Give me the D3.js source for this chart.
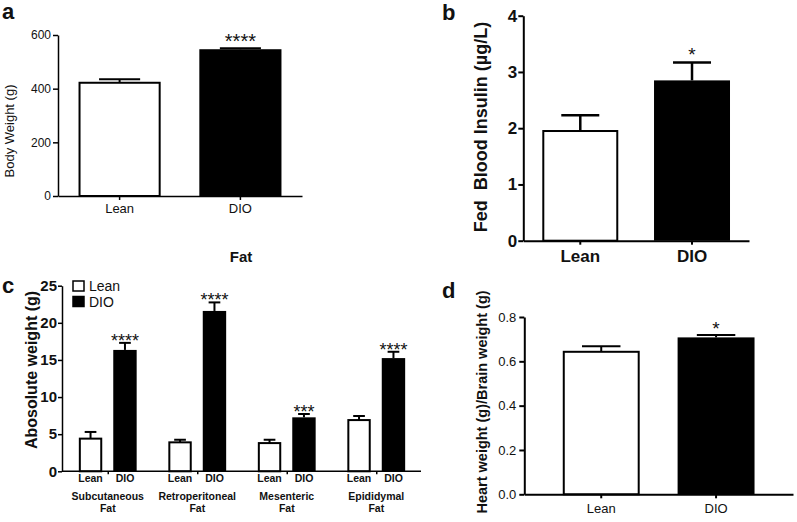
<!DOCTYPE html>
<html>
<head>
<meta charset="utf-8">
<script src="https://cdn.jsdelivr.net/npm/d3@7"></script>
<style>
  html, body { margin: 0; padding: 0; background: #fff; }
  svg { display: block; }
  text { font-family: "Liberation Sans", Arial, sans-serif; fill: #111; }
</style>
</head>
<body>
<svg id="chart" width="797" height="522"></svg>
<script>
// ---------- DATA ----------
const groups2 = ["Lean", "DIO"];

// Panel a: body weight (g)
const bodyWeightMean = [422, 547];
const bodyWeightSem = [13, 4];
const bodyWeightStars = ["", "****"];
const bodyWeightTicks = [0, 200, 400, 600];

// Panel b: fed blood insulin (µg/L)
const insulinMean = [1.95, 2.85];
const insulinSem = [0.28, 0.32];
const insulinStars = ["", "*"];
const insulinTicks = [0, 1, 2, 3, 4];

// Panel c: fat depots absolute weight (g)
const fatDepots = ["Subcutaneous", "Retroperitoneal", "Mesenteric", "Epididymal"];
const fatLeanMean = [4.4, 3.9, 3.8, 6.9];
const fatLeanSem = [0.9, 0.35, 0.45, 0.55];
const fatDioMean = [16.35, 21.6, 7.27, 15.25];
const fatDioSem = [0.95, 1.15, 0.45, 0.85];
const fatDioStars = ["****", "****", "***", "****"];
const fatTicks = [0, 5, 10, 15, 20, 25];

// Panel d: heart weight / brain weight
const heartMean = [0.643, 0.708];
const heartSem = [0.025, 0.011];
const heartStars = ["", "*"];
const heartTicks = [0, 0.2, 0.4, 0.6, 0.8];

// ---------- DRAW ----------
const svg = d3.select("#chart");
const FONT = '"Liberation Sans", Arial, sans-serif';
const fills = { Lean: "#ffffff", DIO: "#000000" };

function styleAxis(g, sw) {
  g.selectAll(".domain").attr("stroke", "#000").attr("stroke-width", sw);
  g.selectAll(".tick line").attr("stroke", "#000").attr("stroke-width", sw);
}

function simplePanel(o) {
  const g = svg.append("g");
  const y = d3.scaleLinear().domain(o.domain).range([o.y0, o.y1]);
  const x = d3.scaleBand().domain(groups2).range([o.x0, o.x1])
    .paddingInner(o.pi).paddingOuter(o.po);

  const rows = groups2.map((k, i) => ({ k, m: o.mean[i], s: o.sem[i], star: o.stars[i] }));
  g.selectAll("rect.bar").data(rows).join("rect")
    .attr("x", d => x(d.k) + (d.k === "Lean" ? o.bw / 2 : 0))
    .attr("y", d => y(d.m))
    .attr("width", d => x.bandwidth() - (d.k === "Lean" ? o.bw : 0))
    .attr("height", d => y(0) - y(d.m))
    .attr("fill", d => fills[d.k])
    .attr("stroke", "#000")
    .attr("stroke-width", d => d.k === "Lean" ? o.bw : 0);

  const cw = x.bandwidth() * 0.25;
  rows.forEach(d => {
    const cx = x(d.k) + x.bandwidth() / 2;
    g.append("line").attr("x1", cx).attr("x2", cx)
      .attr("y1", y(d.m)).attr("y2", y(d.m + d.s))
      .attr("stroke", "#000").attr("stroke-width", o.ew);
    g.append("line").attr("x1", cx - cw).attr("x2", cx + cw)
      .attr("y1", y(d.m + d.s)).attr("y2", y(d.m + d.s))
      .attr("stroke", "#000").attr("stroke-width", o.ew);
    if (d.star) {
      g.append("text").attr("x", cx).attr("y", y(d.m + d.s) + o.starDy)
        .attr("text-anchor", "middle")
        .style("font-size", o.starSize + "px").style("font-family", FONT)
        .text(d.star);
    }
  });

  const ya = g.append("g").attr("transform", `translate(${o.x0},0)`)
    .call(d3.axisLeft(y).tickValues(o.ticks).tickFormat(o.fmt)
      .tickSize(5).tickSizeOuter(0).tickPadding(o.tp));
  styleAxis(ya, o.aw);
  ya.selectAll(".tick text").style("font-size", o.tickFs + "px")
    .style("font-weight", o.tickBold ? "bold" : "normal").style("font-family", FONT).attr("fill", "#111");

  const xa = g.append("g").attr("transform", `translate(0,${o.y0})`)
    .call(d3.axisBottom(x).tickSize(4).tickSizeOuter(0).tickPadding(o.xtp));
  styleAxis(xa, o.aw);
  xa.selectAll(".tick text").style("font-size", o.xFs + "px")
    .style("font-weight", o.xBold ? "bold" : "normal").style("font-family", FONT).attr("fill", "#111");

  g.append("text").attr("transform", `translate(${o.lx},${o.ly}) rotate(-90)`)
    .attr("text-anchor", "middle")
    .style("font-size", o.lFs + "px").style("font-weight", o.lBold ? "bold" : "normal")
    .style("white-space", "pre")
    .text(o.label);

  g.append("text").attr("x", o.px).attr("y", o.py)
    .style("font-size", "22px").style("font-weight", "bold").text(o.letter);
}

// Panel a
simplePanel({
  domain: [0, 600], y0: 196, y1: 35, x0: 58, x1: 302, pi: 0.32, po: 0.17,
  mean: bodyWeightMean, sem: bodyWeightSem, stars: bodyWeightStars, ticks: bodyWeightTicks,
  fmt: d3.format("d"), bw: 2, ew: 2, aw: 1.5, starSize: 20, starDy: 0,
  tickFs: 12, tickBold: false, tp: 2, xFs: 13, xBold: false, xtp: 4,
  label: "Body Weight (g)", lx: 14, ly: 131, lFs: 13, lBold: false,
  letter: "a", px: 2, py: 19
});

// Panel b
simplePanel({
  domain: [0, 4], y0: 240.7, y1: 15.7, x0: 523.3, x1: 749, pi: 0.32, po: 0.17,
  mean: insulinMean, sem: insulinSem, stars: insulinStars, ticks: insulinTicks,
  fmt: d3.format("d"), bw: 2, ew: 2.5, aw: 2, starSize: 19, starDy: -1,
  tickFs: 17, tickBold: true, tp: 1, xFs: 17, xBold: true, xtp: 5,
  label: "Fed  Blood Insulin (\u00b5g/L)", lx: 487, ly: 127, lFs: 18, lBold: true,
  letter: "b", px: 442, py: 20
});

// Panel d
simplePanel({
  domain: [0, 0.8], y0: 494.3, y1: 317, x0: 524.3, x1: 793, pi: 0.33, po: 0.335,
  mean: heartMean, sem: heartSem, stars: heartStars, ticks: heartTicks,
  fmt: d3.format(".1f"), bw: 2, ew: 2, aw: 2, starSize: 19, starDy: 0,
  tickFs: 13, tickBold: false, tp: 3, xFs: 13, xBold: false, xtp: 5,
  label: "Heart weight (g)/Brain weight (g)", lx: 487, ly: 402, lFs: 14.5, lBold: true,
  letter: "d", px: 442, py: 298
});

// Panel c (grouped)
(function () {
  const g = svg.append("g");
  const y = d3.scaleLinear().domain([0, 25]).range([471.3, 285.7]);
  const gx = d3.scalePoint().domain(fatDepots).range([63, 421]).padding(0.5);
  const step = gx.step();
  const sx = d3.scaleBand().domain(groups2).range([-step / 2, step / 2])
    .paddingInner(0.32).paddingOuter(0.46);
  const bwid = sx.bandwidth();

  const rows = [];
  fatDepots.forEach((dep, i) => {
    rows.push({ dep, k: "Lean", m: fatLeanMean[i], s: fatLeanSem[i], star: "" });
    rows.push({ dep, k: "DIO", m: fatDioMean[i], s: fatDioSem[i], star: fatDioStars[i] });
  });

  g.selectAll("rect.bar").data(rows).join("rect")
    .attr("x", d => gx(d.dep) + sx(d.k) + (d.k === "Lean" ? 1 : 0))
    .attr("y", d => y(d.m))
    .attr("width", d => bwid - (d.k === "Lean" ? 2 : 0))
    .attr("height", d => y(0) - y(d.m))
    .attr("fill", d => fills[d.k])
    .attr("stroke", "#000")
    .attr("stroke-width", d => d.k === "Lean" ? 2 : 0);

  const cw = bwid * 0.25;
  rows.forEach(d => {
    const cx = gx(d.dep) + sx(d.k) + bwid / 2;
    const yt = y(d.m + d.s);
    g.append("line").attr("x1", cx).attr("x2", cx).attr("y1", y(d.m)).attr("y2", yt)
      .attr("stroke", "#000").attr("stroke-width", 2);
    g.append("line").attr("x1", cx - cw).attr("x2", cx + cw).attr("y1", yt).attr("y2", yt)
      .attr("stroke", "#000").attr("stroke-width", 2);
    if (d.star) {
      g.append("text").attr("x", cx).attr("y", yt + 4).attr("text-anchor", "middle")
        .style("font-size", "18px").text(d.star);
    }
    g.append("text").attr("x", cx).attr("y", 481.5).attr("text-anchor", "middle")
      .style("font-weight", "bold").style("font-size", "10.5px")
      .text(d.k);
  });

  const ya = g.append("g").attr("transform", "translate(62,0)")
    .call(d3.axisLeft(y).tickValues(fatTicks).tickSize(4).tickSizeOuter(0).tickPadding(1));
  styleAxis(ya, 1.5);
  ya.selectAll(".tick text").style("font-size", "15px").style("font-weight", "bold")
    .style("font-family", FONT).attr("fill", "#111");

  const xa = g.append("g").attr("transform", `translate(0,${y(0)})`)
    .call(d3.axisBottom(gx).tickSize(3).tickSizeOuter(0).tickFormat(""));
  xa.select(".domain").attr("d", `M62,0H421`);
  styleAxis(xa, 1.5);

  fatDepots.forEach(dep => {
    const t = g.append("text").attr("x", gx(dep)).attr("y", 500).attr("text-anchor", "middle")
      .style("font-weight", "bold").style("font-size", "10.5px");
    t.append("tspan").attr("x", gx(dep)).text(dep);
    t.append("tspan").attr("x", gx(dep)).attr("dy", 12).text("Fat");
  });

  g.append("text").attr("transform", "translate(37,370) rotate(-90)")
    .attr("text-anchor", "middle").style("font-size", "16px").style("font-weight", "bold")
    .text("Abosolute weight (g)");

  g.append("text").attr("x", 241).attr("y", 262).attr("text-anchor", "middle")
    .style("font-size", "15px").style("font-weight", "bold").text("Fat");

  const leg = g.append("g");
  groups2.forEach((k, i) => {
    leg.append("rect").attr("x", 73).attr("y", 281 + i * 15.5).attr("width", 11).attr("height", 10)
      .attr("fill", fills[k]).attr("stroke", "#000").attr("stroke-width", 1.5);
    leg.append("text").attr("x", 89).attr("y", 291 + i * 15.5)
      .style("font-size", "14px").attr("fill", "#333").text(k);
  });

  g.append("text").attr("x", 2).attr("y", 293).style("font-size", "22px")
    .style("font-weight", "bold").text("c");
})();
</script>
</body>
</html>
